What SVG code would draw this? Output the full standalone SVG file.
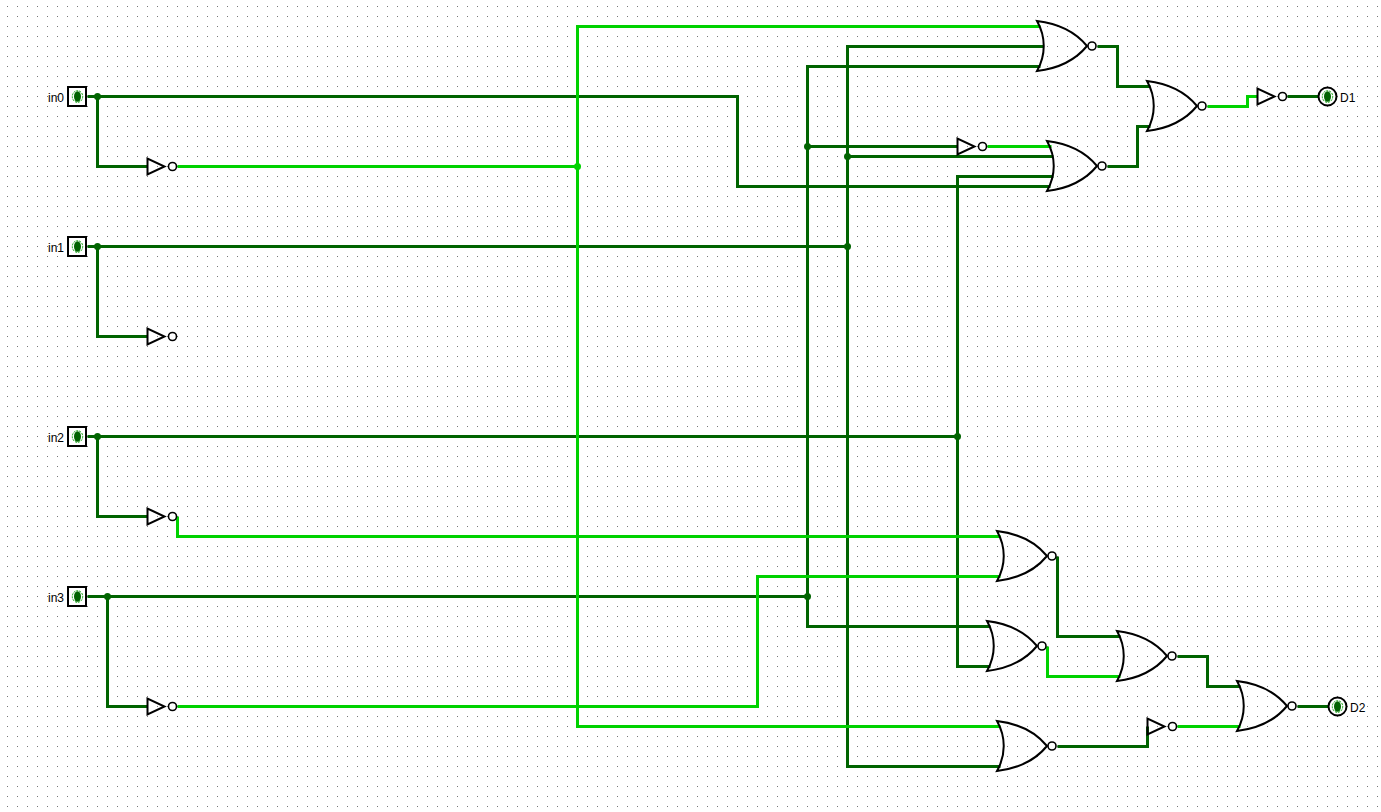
<svg xmlns="http://www.w3.org/2000/svg" width="1381" height="812" viewBox="0 0 1381 812">
<style>
.w{fill:none;stroke-width:3;stroke-linejoin:miter;stroke-linecap:butt}
.d{stroke:#006400}
.l{stroke:#00d200}
.j{fill:#006400}
.g{fill:none;stroke:#000;stroke-width:2}
.b{fill:#fff;stroke:#000;stroke-width:1.6}
.t{font:12px "Liberation Sans",Arial,sans-serif;fill:#000}
</style>
<defs>
<pattern id="grid" x="7" y="6" width="10" height="10" patternUnits="userSpaceOnUse"><rect width="1" height="1" fill="#777"/></pattern>
<g id="nor"><path class="g" d="M0,0C17,2 36,8 50,25C36,42 17,48 0,50C9,34 9,16 0,0Z"/><circle class="b" cx="55" cy="25" r="4"/></g>
<g id="inv"><path class="g" d="M0,-8L0,8L17,0Z"/><circle class="b" cx="25" cy="0" r="4"/></g>
<g id="blob"><ellipse rx="5.2" ry="5.8" fill="#fff" stroke="#00a000" stroke-width="1" stroke-dasharray="2 1"/><ellipse rx="3.5" ry="5.2" fill="#006400"/></g>
</defs>
<rect width="1381" height="812" fill="#fff"/>
<rect width="1381" height="812" fill="url(#grid)"/>
<g id="connectors" transform="translate(.5 .5)">
<path class="w d" d="M87,96H737V186H1050"/>
<path class="w d" d="M97,96V166H147"/>
<path class="w d" d="M87,246H847"/>
<path class="w d" d="M97,246V336H147"/>
<path class="w d" d="M87,436H957"/>
<path class="w d" d="M97,436V516H147"/>
<path class="w d" d="M87,596H807"/>
<path class="w d" d="M107,596V706H147"/>
<path class="w d" d="M1043,46H847V766H1000"/>
<path class="w d" d="M1040,66H807V626H990"/>
<path class="w d" d="M807,146H957"/>
<path class="w d" d="M847,156H1053"/>
<path class="w d" d="M1053,176H957V666H990"/>
<path class="w d" d="M1097,46H1117V86H1150"/>
<path class="w d" d="M1107,166H1137V126H1150"/>
<path class="w d" d="M1287,96H1320"/>
<path class="w d" d="M1057,556V636H1120"/>
<path class="w d" d="M1177,656H1207V686H1240"/>
<path class="w d" d="M1057,746H1147V726"/>
<path class="w d" d="M1297,706H1330"/>
<path class="w l" d="M177,166H577"/>
<path class="w l" d="M1040,26H577V726H1000"/>
<path class="w l" d="M177,516V536H1000"/>
<path class="w l" d="M177,706H757V576H1000"/>
<path class="w l" d="M987,146H1051"/>
<path class="w l" d="M1207,106H1247V96H1257"/>
<path class="w l" d="M1047,646V676H1120"/>
<path class="w l" d="M1177,726H1240"/>
<g id="junctions">
<circle class="j" cx="97" cy="96" r="3.5"/><circle class="j" cx="97" cy="246" r="3.5"/><circle class="j" cx="97" cy="436" r="3.5"/><circle class="j" cx="107" cy="596" r="3.5"/>
<circle class="j" cx="577" cy="166" r="3.5" style="fill:#00d200"/><circle class="j" cx="807" cy="146" r="3.5"/><circle class="j" cx="847" cy="156" r="3.5"/><circle class="j" cx="847" cy="246" r="3.5"/><circle class="j" cx="957" cy="436" r="3.5"/><circle class="j" cx="807" cy="596" r="3.5"/>
</g>
</g>
<g id="in0"><rect x="68" y="87" width="18" height="19" fill="#fff" stroke="#000" stroke-width="2"/><use href="#blob" x="77.5" y="96.5"/><text class="t" x="48" y="102">in0</text></g>
<g id="in1"><rect x="68" y="237" width="18" height="19" fill="#fff" stroke="#000" stroke-width="2"/><use href="#blob" x="77.5" y="246.5"/><text class="t" x="48" y="252">in1</text></g>
<g id="in2"><rect x="68" y="427" width="18" height="19" fill="#fff" stroke="#000" stroke-width="2"/><use href="#blob" x="77.5" y="436.5"/><text class="t" x="48" y="442">in2</text></g>
<g id="in3"><rect x="68" y="587" width="18" height="19" fill="#fff" stroke="#000" stroke-width="2"/><use href="#blob" x="77.5" y="596.5"/><text class="t" x="48" y="602">in3</text></g>
<g id="inv0"><use href="#inv" x="147.5" y="166.5"/></g>
<g id="inv1"><use href="#inv" x="147.5" y="336.5"/></g>
<g id="inv2"><use href="#inv" x="147.5" y="516.5"/></g>
<g id="inv3"><use href="#inv" x="147.5" y="706.5"/></g>
<g id="inv4"><use href="#inv" x="957.5" y="146.5"/></g>
<g id="inv5"><use href="#inv" x="1257.5" y="96.5"/></g>
<g id="inv6"><use href="#inv" x="1147.5" y="726.5"/></g>
<g id="nor1"><use href="#nor" x="1037" y="21"/></g>
<g id="nor2"><use href="#nor" x="1047" y="141"/></g>
<g id="nor3"><use href="#nor" x="1147" y="81"/></g>
<g id="nor4"><use href="#nor" x="997" y="531"/></g>
<g id="nor5"><use href="#nor" x="987" y="621"/></g>
<g id="nor6"><use href="#nor" x="1117" y="631"/></g>
<g id="nor7"><use href="#nor" x="997" y="721"/></g>
<g id="nor8"><use href="#nor" x="1237" y="681"/></g>
<g id="D1"><circle cx="1327.5" cy="96.5" r="9" fill="#fff" stroke="#000" stroke-width="2"/><use href="#blob" x="1327.5" y="96.5"/><text class="t" x="1340" y="102">D1</text></g>
<g id="D2"><circle cx="1337.5" cy="706.5" r="9" fill="#fff" stroke="#000" stroke-width="2"/><use href="#blob" x="1337.5" y="706.5"/><text class="t" x="1350" y="712">D2</text></g>
</svg>
